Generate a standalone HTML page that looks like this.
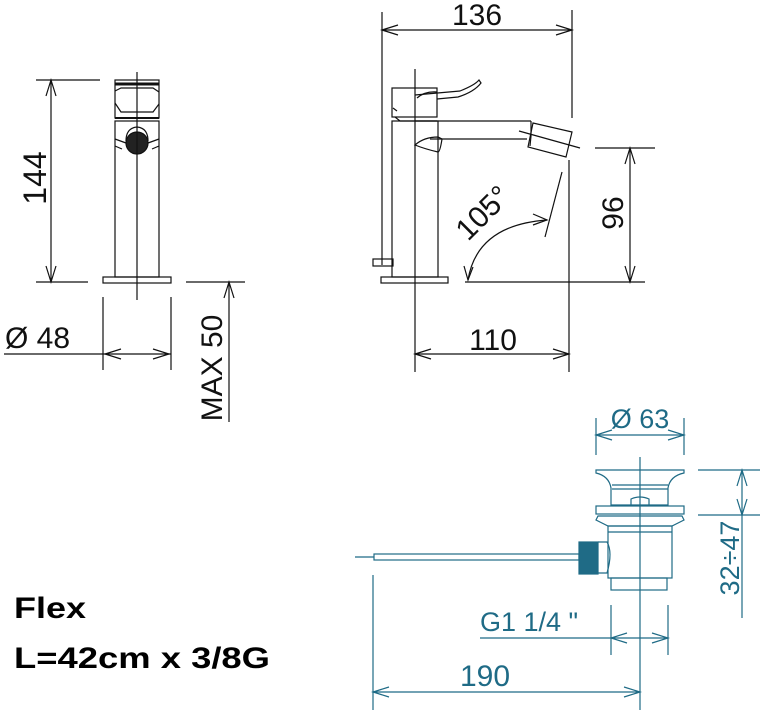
<!DOCTYPE html>
<html><head><meta charset="utf-8"><style>
html,body{margin:0;padding:0;background:#fff;}
svg{display:block;font-family:"Liberation Sans",sans-serif;}
</style></head><body>
<svg width="766" height="711" viewBox="0 0 766 711" xmlns="http://www.w3.org/2000/svg">
<g fill="none" stroke="#111" stroke-width="1.2">
<!-- LEFT VIEW -->
<line x1="36" y1="80" x2="100" y2="80"/>
<line x1="36" y1="282" x2="88" y2="282"/>
<line x1="51" y1="80" x2="51" y2="282"/>
<polyline points="46,96 51,80 56,96"/><polyline points="46,266 51,282 56,266"/>
<rect x="115" y="80" width="44" height="38"/>
<line x1="115" y1="84" x2="159" y2="84" stroke-width="3"/>
<line x1="115" y1="118" x2="159" y2="118" stroke-width="2"/>
<path d="M115,91 L121,88 L153,88 L159,92"/>
<path d="M115,103 L121,112 L153,112 L159,104"/>
<rect x="115" y="121" width="44" height="156"/>
<path d="M126,141 Q126,128 137,127 Q148,128 148,141"/>
<path d="M115,139 L126,143 M159,139 L148,143 M115,146 L122,149 M159,146 L152,149"/>
<circle cx="137" cy="143" r="11" fill="#222"/>
<rect x="103" y="277" width="68" height="6"/>
<line x1="137" y1="72" x2="137" y2="300"/>
<line x1="103" y1="297" x2="103" y2="370"/>
<line x1="171" y1="297" x2="171" y2="370"/>
<line x1="4" y1="354" x2="171" y2="354"/>
<polyline points="121,349 105,354 121,359"/><polyline points="153,349 169,354 153,359"/>
<line x1="186" y1="282" x2="245" y2="282"/>
<line x1="229" y1="282" x2="229" y2="422"/>
<polyline points="224,298 229,282 234,298"/>
<!-- MIDDLE VIEW -->
<line x1="382" y1="12" x2="382" y2="265"/>
<line x1="572" y1="10" x2="572" y2="118"/>
<line x1="382" y1="30" x2="572" y2="30"/>
<polyline points="398,25 382,30 398,35"/><polyline points="556,25 572,30 556,35"/>
<line x1="415" y1="69" x2="415" y2="372"/>
<rect x="392" y="88" width="45" height="29"/>
<path d="M397,111 L393,108 M395,117 L400,121 L437,121"/>
<path d="M415,95 L460,91 Q475,85 479,80 L481,83 Q474,92 458,97 L437,99"/>
<path d="M417,98 Q425,91 437,92"/>
<rect x="392" y="121" width="46" height="156"/>
<line x1="415" y1="121" x2="531" y2="121"/>
<line x1="531" y1="121" x2="531" y2="136"/>
<line x1="430" y1="139" x2="527" y2="139"/>
<path d="M415,145 Q424,137 438,137 L442,139 Q440,152 438,152 Q425,149 415,145Z"/>
<path d="M533,123 L572,132 L566,157 L528,147 Z"/>
<line x1="519" y1="131" x2="580" y2="148"/>
<line x1="531" y1="136" x2="530" y2="146"/>
<rect x="381" y="277" width="67" height="6"/>
<rect x="373" y="259" width="20" height="7"/>
<line x1="465" y1="282" x2="645" y2="282"/>
<line x1="569" y1="160" x2="569" y2="372"/>
<line x1="562" y1="172" x2="545" y2="237"/>
<path d="M468,280 Q477,225 547,220"/>
<polyline points="464,266 468,280 473,267"/>
<polyline points="533,214 547,220 533,225"/>
<line x1="595" y1="148" x2="655" y2="148"/>
<line x1="630" y1="148" x2="630" y2="282"/>
<polyline points="625,164 630,148 635,164"/><polyline points="625,266 630,282 635,266"/>
<line x1="415" y1="354" x2="569" y2="354"/>
<polyline points="431,349 415,354 431,359"/><polyline points="553,349 569,354 553,359"/>
</g>
<g fill="#111" font-size="30">
<text x="477" y="25" text-anchor="middle">136</text>
<text x="493" y="350" text-anchor="middle">110</text>
<text x="5" y="348">Ø 48</text>
<text transform="translate(46,178) rotate(-90)" text-anchor="middle" font-size="32">144</text>
<text transform="translate(222,368) rotate(-90)" text-anchor="middle">MAX 50</text>
<text transform="translate(623,213) rotate(-90)" text-anchor="middle">96</text>
<text transform="translate(490,220) rotate(-45)" text-anchor="middle">105°</text>
</g>
<!-- BOTTOM DRAIN -->
<g fill="none" stroke="#1f6b86" stroke-width="1.2">
<line x1="596" y1="418" x2="596" y2="455"/>
<line x1="684" y1="418" x2="684" y2="455"/>
<line x1="596" y1="435" x2="684" y2="435"/>
<polyline points="612,430 596,435 612,440"/><polyline points="668,430 684,435 668,440"/>
<line x1="640" y1="457" x2="640" y2="710"/>
<path d="M596,470 L684,470 L684,473 Q670,476 668,488 L668,505 L611,505 L611,488 Q609,476 596,473 Z"/>
<line x1="612" y1="485" x2="668" y2="485"/>
<line x1="612" y1="489" x2="668" y2="489"/>
<path d="M631,505 L631,499 Q640,495 649,499 L649,505"/>
<rect x="596" y="506" width="88" height="8"/>
<path d="M598,516 L682,516 L684,520 Q676,524 672,526 L608,526 Q600,522 596,520 Z"/>
<rect x="608" y="526" width="64" height="52"/>
<line x1="608" y1="532" x2="672" y2="532"/>
<rect x="611" y="578" width="56" height="12"/>
<path d="M598,542 L607,542 Q613,552 607,573 L598,573"/>
<rect x="579" y="542" width="19" height="32" fill="#1f6b86"/>
<rect x="374" y="554" width="205" height="6"/>
<line x1="355" y1="557" x2="374" y2="557"/>
<line x1="698" y1="470" x2="760" y2="470"/>
<line x1="698" y1="515" x2="760" y2="515"/>
<line x1="742" y1="470" x2="742" y2="618"/>
<polyline points="737,486 742,470 747,486"/><polyline points="737,499 742,515 747,499"/>
<line x1="611" y1="605" x2="611" y2="655"/>
<line x1="668" y1="605" x2="668" y2="655"/>
<line x1="480" y1="638" x2="668" y2="638"/>
<polyline points="627,633 611,638 627,643"/><polyline points="652,633 668,638 652,643"/>
<line x1="373" y1="575" x2="373" y2="710"/>
<line x1="373" y1="692" x2="640" y2="692"/>
<polyline points="389,687 373,692 389,697"/><polyline points="624,687 640,692 624,697"/>
</g>
<g fill="#1f6b86" font-size="27">
<text x="640" y="428" text-anchor="middle">Ø 63</text>
<text x="480" y="631">G1 1/4 "</text>
<text x="485" y="686" text-anchor="middle" font-size="30">190</text>
<text transform="translate(739,558) rotate(-90)" text-anchor="middle">32÷47</text>
</g>
<g fill="#000" font-weight="bold" font-size="30">
<text x="14" y="618" textLength="72" lengthAdjust="spacingAndGlyphs">Flex</text>
<text x="14" y="668" textLength="256" lengthAdjust="spacingAndGlyphs">L=42cm x 3/8G</text>
</g>
</svg>
</body></html>
